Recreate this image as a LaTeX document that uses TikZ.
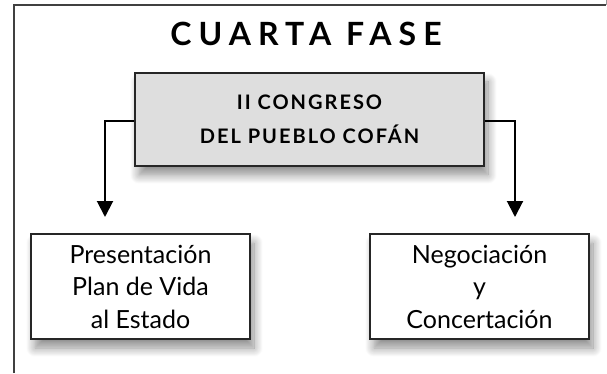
\documentclass[tikz,border=0pt]{standalone}
\usepackage{fontspec}
\setmainfont{Lato}
\usetikzlibrary{positioning,calc,arrows.meta,shadows.blur}

\tikzset{
    fase/.style={font=\fontsize{32}{34}\selectfont\bfseries\addfontfeatures{LetterSpace=22}},
    shade box/.style={draw=black!85, line width=1.1pt, align=center, inner sep=0pt,
        blur shadow={shadow xshift=4pt, shadow yshift=-9pt, shadow blur radius=9pt,
            shadow blur steps=12, shadow opacity=45}},
    congreso box/.style={shade box, fill=black!13, minimum width=349pt, minimum height=93pt,
        font=\fontsize{20}{34.5}\selectfont\bfseries\addfontfeatures{LetterSpace=10}},
    accion box/.style={shade box, fill=white, minimum width=219pt, minimum height=105pt,
        font=\fontsize{25}{32.5}\selectfont},
    flecha/.style={line width=2pt, -{Triangle[width=16pt,length=16pt]}}
}

\begin{document}
\begin{tikzpicture}[x=1pt,y=1pt]
    \useasboundingbox (0,0) rectangle (607,373);
    % marco
    \draw[black!40, line width=0.8pt] (606,373) -- (606,367.5);
    \draw[black!75, line width=2pt] (13.5,0) -- (13.5,367.5) -- (606,367.5);

    \node[fase] (titulo) at (306,339) {CUARTA FASE};

    \node[congreso box] (congreso) at (309.5,253.5) {II CONGRESO\\DEL PUEBLO COFÁN};

    \coordinate (izq) at (105,156);
    \coordinate (der) at (515,156);
    \draw[flecha] ([yshift=-1.5pt]congreso.west) -| (izq);
    \draw[flecha] ([yshift=-1.5pt]congreso.east) -| (der);

    \node[accion box] (presentacion) at (140.5,86.5) {Presentación\\Plan de Vida\\al Estado};
    \node[accion box] (negociacion) at (479.5,86.5) {Negociación\\y\\Concertación};
\end{tikzpicture}
\end{document}
